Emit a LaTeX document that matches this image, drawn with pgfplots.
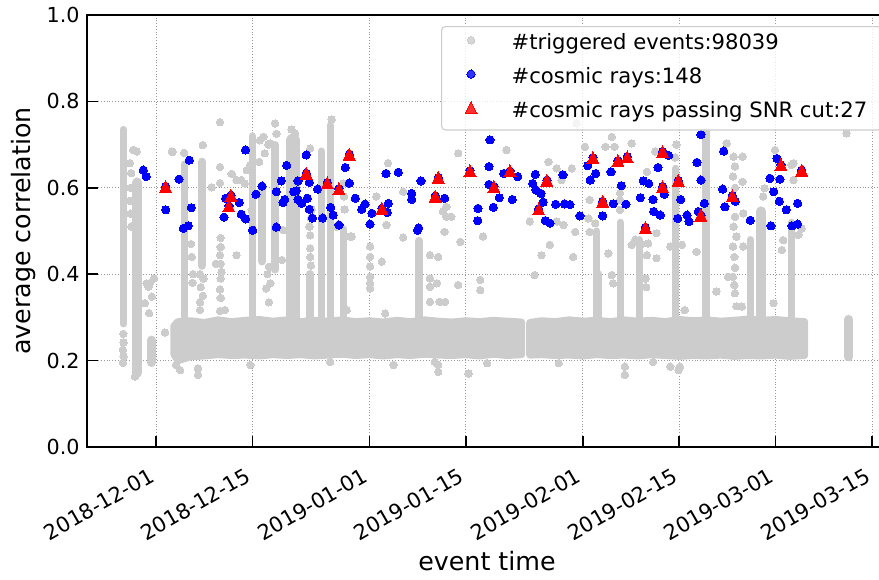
\documentclass[border=0pt]{standalone}
\usepackage{fontspec}
\setmainfont{DejaVu Sans}
\usepackage{pgfplots}
\pgfplotsset{compat=1.18}
\definecolor{cgray}{RGB}{204,204,204}
\pgfplotsset{myleg/.style={legend image code/.code={\path (0pt,0pt) (47.75pt,0pt); \draw[##1] plot coordinates {(17.75pt,3.2pt)};}}}
\begin{document}
\begin{tikzpicture}
\begin{axis}[
  scale only axis, width=600pt, height=324pt,
  xmin=-10.02, xmax=106.18, ymin=0, ymax=1,
  xtick={0,14,31,45,62,76,90,104},
  xticklabels={2018-12-01,2018-12-15,2019-01-01,2019-01-15,2019-02-01,2019-02-15,2019-03-01,2019-03-15},
  ytick={0,0.2,0.4,0.6,0.8,1.0},
  yticklabels={0.0,0.2,0.4,0.6,0.8,1.0},
  tick align=inside, xtick pos=left, ytick pos=left,
  major tick length=8.25pt,
  every tick/.style={black, line width=1.2pt},
  axis line style={line width=1.2pt},
  grid=major, grid style={line width=0.6pt, color=black!40, dash pattern=on 0.8pt off 1.3pt},
  ticklabel style={font=\fontsize{15.5}{18}\selectfont},
  /pgf/number format/assume math mode=true,
  xticklabel style={xshift=-6pt, rotate=30, anchor=north east, inner sep=0pt, font=\fontsize{15.75}{19}\selectfont},
  xticklabel shift=14.6pt,
  yticklabel style={xshift=-2.1pt},
  xlabel={event time}, ylabel={average correlation},
  every axis x label/.style={at={(axis description cs:0.5,0)}, anchor=base, yshift=-92.25pt, font=\fontsize{19}{22}\selectfont},
  every axis y label/.style={at={(axis description cs:-0.07,0.5)}, rotate=90, anchor=base, font=\fontsize{19}{22}\selectfont},
  legend cell align=left,
  legend style={at={(axis description cs:0.4425,0.9745)}, anchor=north west, draw=cgray, line width=0.8pt, rounded corners=3pt, fill=white, fill opacity=0.8, text opacity=1, font=\fontsize{15.85}{19}\selectfont, inner xsep=4pt, inner ysep=5.5pt, row sep=9.3pt, nodes={inner sep=0pt, text height=12pt, text depth=4pt}},
  unbounded coords=jump,
]
\addlegendimage{only marks, mark=*, mark size=2.8pt, color=cgray, mark options={line width=0pt}, myleg}
\addlegendentry{\#triggered events:98039}
% dense band of triggered events
\addplot[forget plot, fill=cgray, draw=cgray, line width=5.4pt, line join=round, line cap=round] coordinates {
(2.6,0.280) (3.2,0.290) (5,0.292) (7,0.288) (9,0.294) (11,0.290) (13,0.293) (15,0.295) (17,0.291) (19,0.294) (21,0.290) (23,0.293) (25,0.291) (27,0.294) (29,0.290) (31,0.292) (33,0.289) (35,0.293) (37,0.290) (39,0.294) (41,0.291) (43,0.289) (45,0.292) (47,0.290) (49,0.293) (51,0.291) (53.1,0.289)
(53.1,0.214) (51,0.212) (49,0.215) (47,0.211) (45,0.214) (43,0.212) (41,0.213) (39,0.215) (37,0.212) (35,0.214) (33,0.211) (31,0.214) (29,0.212) (27,0.215) (25,0.213) (23,0.211) (21,0.214) (19,0.212) (17,0.214) (15,0.211) (13,0.213) (11,0.212) (9,0.214) (7,0.211) (5,0.209) (3.2,0.200) (2.6,0.215) (2.6,0.280)};
\addplot[forget plot, fill=cgray, draw=cgray, line width=5.4pt, line join=round, line cap=round] coordinates {
(54.3,0.288) (56,0.292) (58,0.290) (60,0.294) (62,0.291) (64,0.293) (66,0.290) (68,0.294) (70,0.291) (72,0.293) (74,0.290) (76,0.295) (78,0.292) (80,0.294) (82,0.291) (84,0.293) (86,0.296) (88,0.293) (90,0.295) (92,0.292) (94.2,0.290)
(94.2,0.212) (92,0.210) (90,0.213) (88,0.211) (86,0.212) (84,0.210) (82,0.213) (80,0.211) (78,0.212) (76,0.210) (74,0.212) (72,0.214) (70,0.211) (68,0.213) (66,0.212) (64,0.214) (62,0.211) (60,0.213) (58,0.212) (56,0.214) (54.3,0.213) (54.3,0.288)};
% vertical streaks of triggered events
\addplot[forget plot, draw=cgray, line width=5.4pt, line cap=round] coordinates {
(-4.75,0.285) (-4.75,0.735) (nan,nan) (4.15,0.29) (4.15,0.655) (nan,nan) (14.0,0.30) (14.0,0.72) (nan,nan)
(17.3,0.41) (17.3,0.70) (nan,nan) (24.0,0.30) (24.0,0.685) (nan,nan) (25.3,0.30) (25.3,0.745) (nan,nan)
(27.2,0.30) (27.2,0.505) (nan,nan) (38.2,0.30) (38.2,0.478) (nan,nan) (64.0,0.30) (64.0,0.50) (nan,nan)
(67.45,0.30) (67.45,0.52) (nan,nan) (70.2,0.30) (70.2,0.48) (nan,nan) (75.5,0.30) (75.5,0.645) (nan,nan)
(79.9,0.30) (79.9,0.73) (nan,nan) (86.3,0.30) (86.3,0.48) (nan,nan) (92.3,0.30) (92.3,0.52)};
\addplot[forget plot, draw=cgray, line width=6.4pt, line cap=round] coordinates {
(-0.65,0.195) (-0.65,0.248) (nan,nan) (6.7,0.42) (6.7,0.66) (nan,nan) (15.4,0.43) (15.4,0.60) (nan,nan)
(22.4,0.30) (22.4,0.40) (nan,nan) (64.2,0.30) (64.2,0.40) (nan,nan) (100.6,0.208) (100.6,0.296)};
\addplot[forget plot, draw=cgray, line width=7.8pt, line cap=round] coordinates {
(-2.75,0.172) (-2.75,0.612) (nan,nan) (87.9,0.30) (87.9,0.545)};
\addplot[forget plot, draw=cgray, line width=10pt, line cap=round] coordinates {
(19.9,0.30) (19.9,0.71)};
% scattered triggered events
\addplot[forget plot, only marks, mark=*, mark size=2.8pt, color=cgray, mark options={line width=0pt}] coordinates {
(-4.8,0.195) (-4.7,0.21) (-4.8,0.225) (-4.7,0.242) (-4.75,0.262)
(-3.3,0.6875) (-2.8,0.684) (-3.8,0.657) (-3.6,0.634) (-3.7,0.60) (-3.8,0.57) (-3.7,0.54) (-3.6,0.51)
(-3.05,0.163) (-1.35,0.379) (-1.1,0.371) (-1.6,0.333) (-0.3,0.39) (-0.9,0.379) (-0.6,0.348) (-1.0,0.31)
(1.3,0.265) (2.4,0.683) (2.3,0.684) (3.5,0.178) (2.9,0.19) (3.0,0.24) (4.1,0.681)
(5.2,0.44) (5.1,0.47) (5.4,0.40) (5.3,0.38)
(6.4,0.40) (6.9,0.39) (6.5,0.37) (6.8,0.35) (6.4,0.317) (6.4,0.335) (6.1,0.182) (6.1,0.167) (6.8,0.699)
(8.1,0.601) (8.7,0.424)
(9.3,0.752) (9.3,0.648) (9.3,0.611) (9.4,0.484) (9.4,0.463) (9.3,0.444) (9.4,0.424) (9.5,0.405) (9.4,0.39) (9.3,0.365) (9.4,0.345) (9.3,0.315)
(10.0,0.317) (11.0,0.632) (11.7,0.618) (12.4,0.618) (12.9,0.61) (11.7,0.444)
(13.2,0.641) (13.7,0.653) (13.9,0.549) (13.7,0.19)
(15.6,0.718) (16.6,0.703) (15.1,0.71) (15.8,0.68) (16.3,0.70) (15.0,0.66)
(16.4,0.417) (16.6,0.379) (16.0,0.367) (16.4,0.335) (16.2,0.40)
(17.3,0.749) (17.5,0.725) (18.3,0.433) (18.5,0.502) (20.2,0.726) (19.7,0.735)
(22.3,0.51) (22.5,0.53) (22.4,0.46) (22.4,0.44) (22.5,0.42) (22.4,0.49) (22.6,0.55) (22.4,0.691)
(25.5,0.758) (25.3,0.197) (26.2,0.51)
(27.7,0.317) (28.2,0.487) (28.4,0.487) (27.4,0.55) (27.3,0.58) (27.2,0.61)
(31.1,0.464) (31.1,0.44) (31.1,0.418) (31.1,0.394) (31.1,0.379) (31.1,0.367)
(32.0,0.58) (32.8,0.429) (33.3,0.309) (33.5,0.514) (33.7,0.657)
(34.5,0.19) (35.9,0.591) (35.9,0.485)
(39.8,0.444) (41.0,0.44) (39.8,0.39) (39.8,0.371) (40.8,0.379) (39.8,0.336) (41.2,0.336) (42.0,0.336)
(40.5,0.197) (41.0,0.19) (41.0,0.174)
(41.7,0.545) (42.2,0.533) (42.9,0.533) (41.9,0.498) (42.2,0.556) (44.2,0.475) (43.9,0.68) (43.9,0.375)
(45.4,0.17) (47.1,0.387) (47.1,0.363) (47.5,0.487) (48.1,0.194) (50.9,0.6875)
(54.3,0.522) (55.0,0.398) (56.0,0.444) (57.2,0.468) (57.0,0.66) (58.2,0.645) (58.9,0.618) (58.5,0.194)
(59.2,0.514) (58.2,0.522) (60.4,0.645) (60.9,0.498) (60.6,0.44) (61.1,0.749)
(62.3,0.695) (63.0,0.572) (62.8,0.529) (63.0,0.498) (63.8,0.518)
(65.3,0.695) (66.6,0.695) (66.2,0.718) (65.7,0.448) (66.4,0.379) (66.2,0.398)
(67.4,0.549) (67.4,0.572) (67.4,0.588) (68.1,0.186) (68.1,0.167)
(69.1,0.703) (69.1,0.468) (69.6,0.48) (70.6,0.47) (71.5,0.471) (71.3,0.444) (71.3,0.637) (71.1,0.39) (71.2,0.37)
(72.5,0.684) (72.7,0.495) (72.7,0.437) (72.2,0.197)
(74.7,0.464) (74.7,0.186) (75.9,0.178) (76.1,0.186) (75.4,0.67) (75.6,0.70)
(76.4,0.468) (76.8,0.317) (78.5,0.452) (81.4,0.36) (82.9,0.703) (83.1,0.394)
(83.9,0.672) (84.1,0.649) (83.8,0.626) (84.1,0.60) (83.9,0.575) (84.1,0.533) (83.9,0.51) (84.3,0.487) (83.8,0.464) (84.0,0.44) (84.1,0.415) (83.8,0.394) (84.0,0.375) (84.1,0.356) (84.3,0.326)
(85.2,0.672) (85.2,0.614) (85.3,0.541) (85.3,0.464) (85.1,0.325)
(88.4,0.599) (88.2,0.58) (89.9,0.6875) (89.7,0.333) (90.9,0.456) (91.1,0.479)
(92.3,0.653) (92.6,0.618) (92.6,0.657) (93.3,0.491) (93.8,0.506) (100.3,0.726)};
% cosmic rays
\addplot[only marks, mark=*, mark size=3.1pt, color=blue, mark options={line width=0pt}, myleg] coordinates {
(-1.84,0.641) (-1.41,0.626) (3.34,0.620) (4.84,0.664) (1.41,0.549) (5.13,0.554) (3.97,0.506) (4.70,0.512) (13.02,0.6875) (9.88,0.532) (10.12,0.576) (12.10,0.566) (12.39,0.539) (13.02,0.528) (14.04,0.502) (14.52,0.585) (15.40,0.604) (17.48,0.591) (17.48,0.509) (18.20,0.616) (18.45,0.566) (18.69,0.573) (18.98,0.652) (19.99,0.591) (20.38,0.593) (20.62,0.616) (20.62,0.573) (21.16,0.564) (21.83,0.676) (22.27,0.613) (21.98,0.576) (22.27,0.550) (22.71,0.530) (23.48,0.597) (24.21,0.530) (25.37,0.555) (25.75,0.537) (26.58,0.514) (27.50,0.647) (28.08,0.611) (28.95,0.576) (29.87,0.550) (30.36,0.5625) (31.08,0.516) (31.37,0.541) (33.41,0.633) (33.75,0.564) (33.6,0.543) (35.19,0.636) (37.13,0.587) (37.13,0.573) (38.0,0.502) (38.15,0.507) (38.49,0.616) (41.93,0.576) (46.77,0.5525) (46.72,0.524)
(48.51,0.711) (48.37,0.649) (48.37,0.608) (49.87,0.577) (48.99,0.555) (50.50,0.633) (52.53,0.626) (51.75,0.573) (54.71,0.610) (55.09,0.631) (55.19,0.595) (56.25,0.567) (55.92,0.587) (56.55,0.524) (57.23,0.518) (58.06,0.562) (59.11,0.630) (59.36,0.5625) (60.13,0.561) (61.58,0.535) (62.70,0.651) (63.08,0.618) (63.86,0.633) (64.88,0.535) (66.09,0.637) (66.42,0.563) (67.58,0.605) (68.26,0.562) (70.35,0.577) (70.78,0.616) (71.56,0.610) (72.19,0.573) (72.29,0.545) (72.91,0.647) (73.25,0.537) (73.83,0.585) (74.47,0.675) (75.77,0.529) (76.21,0.573) (77.13,0.537) (77.42,0.522) (78.58,0.659) (79.16,0.618) (79.16,0.723) (79.64,0.564) (78.77,0.545) (82.46,0.685) (82.31,0.597) (82.64,0.556) (84.14,0.569) (86.32,0.525) (89.18,0.622) (89.72,0.591) (90.19,0.668) (90.63,0.620) (90.53,0.569) (91.55,0.549) (93.20,0.564) (89.33,0.512) (92.38,0.512) (93.20,0.516)
(1.41,0.603) (10.89,0.583) (10.60,0.558) (21.83,0.634) (24.88,0.612) (26.58,0.598) (28.08,0.678) (32.82,0.5525) (40.57,0.581) (41.0,0.624) (45.61,0.640) (49.09,0.603) (51.42,0.639) (55.58,0.551) (56.79,0.618) (63.47,0.670) (64.88,0.569) (67.10,0.663) (68.46,0.672) (71.07,0.508) (73.59,0.684) (73.59,0.603) (75.86,0.617) (79.16,0.537) (83.70,0.582) (90.78,0.653) (93.78,0.641)};
\addlegendentry{\#cosmic rays:148}
% cosmic rays passing SNR cut
\addplot[only marks, mark=triangle*, mark size=5.2pt, color=red, mark options={line width=0pt, yshift=-1.5pt, yscale=1.155}, myleg] coordinates {
(1.41,0.603) (10.89,0.583) (10.60,0.558) (21.83,0.634) (24.88,0.612) (26.58,0.598) (28.08,0.678) (32.82,0.5525) (40.57,0.581) (41.0,0.624) (45.61,0.640) (49.09,0.603) (51.42,0.639) (55.58,0.551) (56.79,0.618) (63.47,0.670) (64.88,0.569) (67.10,0.663) (68.46,0.672) (71.07,0.508) (73.59,0.684) (73.59,0.603) (75.86,0.617) (79.16,0.537) (83.70,0.582) (90.78,0.653) (93.78,0.641)};
\addlegendentry{\#cosmic rays passing SNR cut:27\hspace*{7pt}}
\end{axis}
\pgfresetboundingbox
\useasboundingbox (-65.25pt,-99pt) rectangle (594pt,335.25pt);
\end{tikzpicture}
\end{document}
